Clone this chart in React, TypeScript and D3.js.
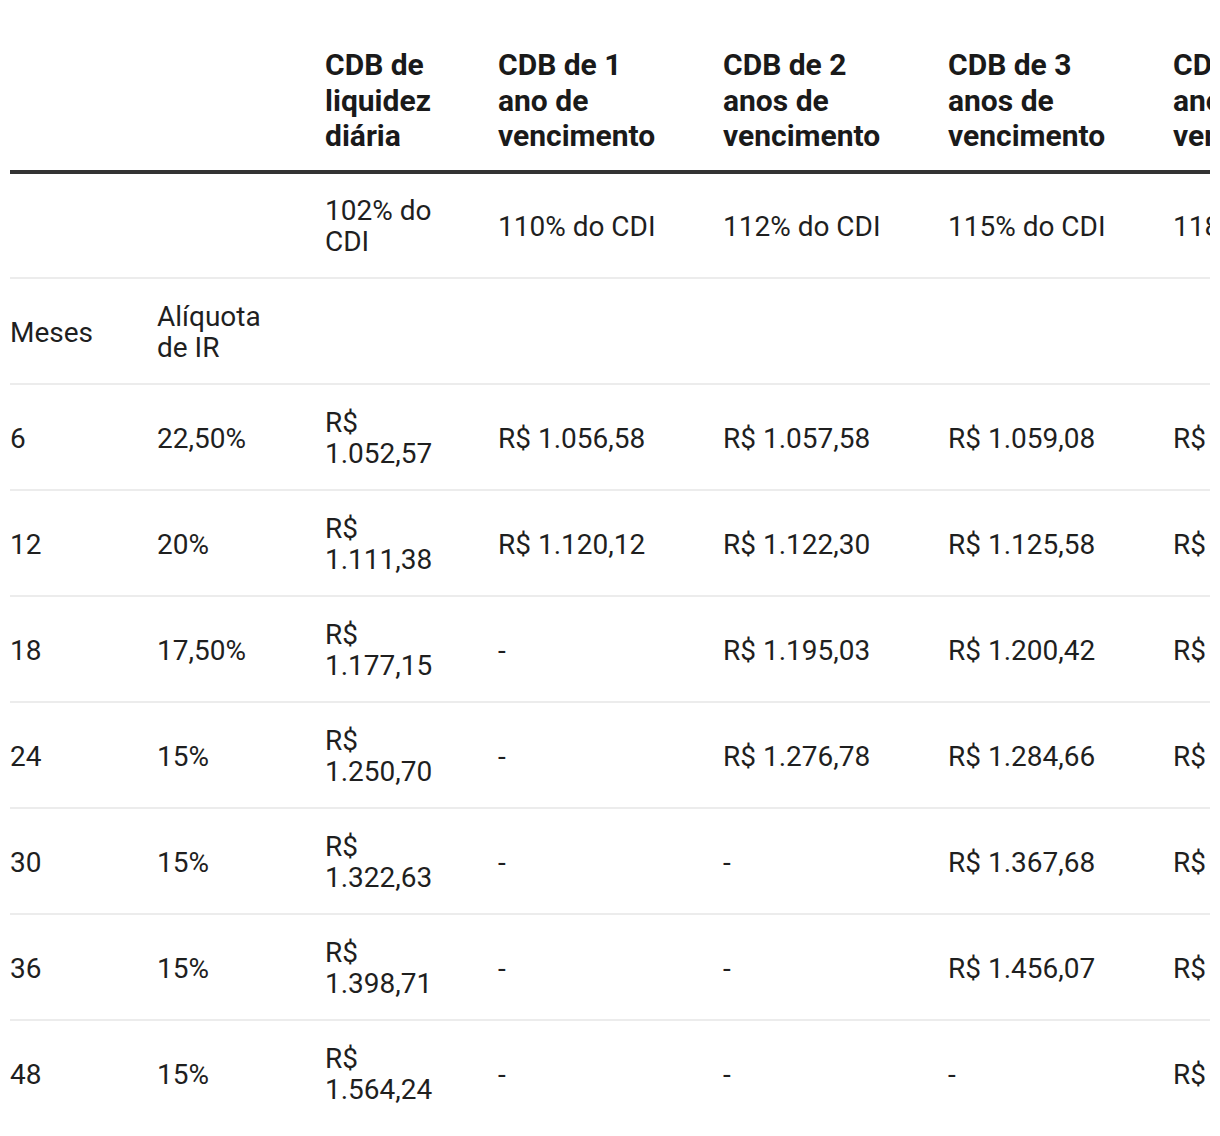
import React from "react";
import * as d3 from "d3";

const columnHeaders = [
  "",
  "",
  "CDB de liquidez diária",
  "CDB de 1 ano de vencimento",
  "CDB de 2 anos de vencimento",
  "CDB de 3 anos de vencimento",
  "CDB de 4 anos de vencimento",
];
const cdiRates = ["", "", "102% do CDI", "110% do CDI", "112% do CDI", "115% do CDI", "118% do CDI"];
const subHeaders = ["Meses", "Alíquota de IR", "", "", "", "", ""];
const months = ["6", "12", "18", "24", "30", "36", "48"];
const irRates = ["22,50%", "20%", "17,50%", "15%", "15%", "15%", "15%"];
const liquidezDiaria = ["1.052,57", "1.111,38", "1.177,15", "1.250,70", "1.322,63", "1.398,71", "1.564,24"];
const umAno = ["1.056,58", "1.120,12", null, null, null, null, null];
const doisAnos = ["1.057,58", "1.122,30", "1.195,03", "1.276,78", null, null, null];
const tresAnos = ["1.059,08", "1.125,58", "1.200,42", "1.284,66", "1.367,68", "1.456,07", null];
const quatroAnos = ["1.060,58", "1.128,85", "1.205,83", "1.292,58", "1.379,96", "1.470,85", "1.664,09"];

const colWidths = [147, 168, 173, 225, 225, 225, 225];
const maxText = [125, 125, 135, 172, 185, 185, 185];

const BODY_FONT = "400 28px Roboto";
const HEAD_FONT = "700 30px Roboto";

let ctx: CanvasRenderingContext2D | null = null;
function measure(text: string, font: string) {
  if (!ctx) {
    const c = document.createElement("canvas");
    ctx = c.getContext("2d");
  }
  if (!ctx) return text.length * 15;
  ctx.font = font;
  return ctx.measureText(text).width;
}
function wrap(text: string, font: string, maxW: number): string[] {
  if (!text) return [];
  const words = text.split(" ");
  const lines: string[] = [];
  let cur = "";
  for (const w of words) {
    const test = cur ? cur + " " + w : w;
    if (cur && measure(test, font) > maxW) {
      lines.push(cur);
      cur = w;
    } else cur = test;
  }
  if (cur) lines.push(cur);
  return lines;
}

export default function App() {
  const W = 1220;
  const H = 1136;
  const left = 10;
  const clipRight = 1210;
  const colX: number[] = [];
  let acc = left;
  colWidths.forEach((w) => {
    colX.push(acc);
    acc += w;
  });

  const dataCols = [months, irRates, liquidezDiaria, umAno, doisAnos, tresAnos, quatroAnos];
  const moneyCols = new Set([2, 3, 4, 5, 6]);
  const bodyRows: string[][] = months.map((_, r) =>
    dataCols.map((col, c) => {
      const v = col[r];
      if (v === null || v === undefined) return "-";
      return moneyCols.has(c) ? "R$ " + v : String(v);
    })
  );

  const headerBottom = 172;
  const rowH = 106;
  const allRows: string[][] = [cdiRates, subHeaders, ...bodyRows];
  const y = d3
    .scaleLinear()
    .domain([0, allRows.length])
    .range([headerBottom, headerBottom + rowH * allRows.length]);

  const textColor = "#1f1f1f";
  const bodyLH = 31.5;
  const headLH = 35.5;

  return (
    <svg
      width={W}
      height={H}
      style={{ position: "absolute", left: 0, top: 0, background: "#fff" }}
      fontFamily="Roboto, sans-serif"
    >
      <defs>
        <clipPath id="clipT">
          <rect x={0} y={0} width={clipRight} height={H} />
        </clipPath>
      </defs>
      <rect x={0} y={0} width={W} height={H} fill="#fff" />
      <g clipPath="url(#clipT)">
        {columnHeaders.map((h, c) => {
          const lines = wrap(h, HEAD_FONT, maxText[c]);
          const lastY = 135;
          return (
            <text key={"h" + c} x={colX[c]} fill="#1a1a1a" fontSize={30} fontWeight={700} dominantBaseline="central">
              {lines.map((ln, i) => (
                <tspan key={i} x={colX[c]} y={lastY - (lines.length - 1 - i) * headLH}>
                  {ln}
                </tspan>
              ))}
            </text>
          );
        })}
        <rect x={left} y={headerBottom - 2} width={clipRight - left} height={4} fill="#333" />
        {allRows.map((row, r) => {
          const top = y(r);
          const bottom = y(r + 1);
          const cy = (top + bottom) / 2 + 0.5;
          return (
            <g key={"r" + r}>
              {r < allRows.length - 1 && (
                <rect x={left} y={bottom - 1} width={clipRight - left} height={2} fill="#ececec" />
              )}
              {row.map((cell, c) => {
                const lines = wrap(cell, BODY_FONT, maxText[c]);
                return (
                  <text key={c} x={colX[c]} fill={textColor} fontSize={28} dominantBaseline="central">
                    {lines.map((ln, i) => (
                      <tspan key={i} x={colX[c]} y={cy + (i - (lines.length - 1) / 2) * bodyLH}>
                        {ln}
                      </tspan>
                    ))}
                  </text>
                );
              })}
            </g>
          );
        })}
      </g>
    </svg>
  );
}
